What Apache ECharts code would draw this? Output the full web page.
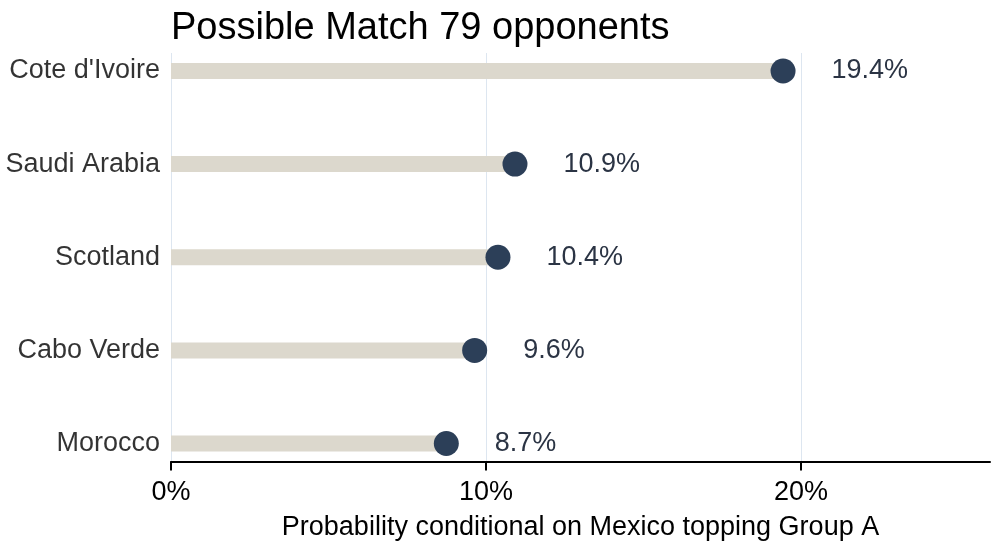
<!DOCTYPE html>
<html>
<head>
<meta charset="utf-8">
<script src="https://cdn.jsdelivr.net/npm/echarts@6/dist/echarts.min.js"></script>
<style>
  html, body { margin: 0; padding: 0; background: #fff; }
  #chart { width: 992px; height: 542px; }
</style>
</head>
<body>
<div id="chart"></div>
<script>
// data, top to bottom
var opponents = ["Cote d'Ivoire", 'Saudi Arabia', 'Scotland', 'Cabo Verde', 'Morocco'];
var probability = [19.43, 10.92, 10.38, 9.64, 8.74];
var xTicks = [0, 10, 20];

var FONT = "'Liberation Sans', Arial, Helvetica, sans-serif";

var chart = echarts.init(document.getElementById('chart'));

var pts = [];
var zeroPts = [];
for (var i = 0; i < opponents.length; i++) {
    pts.push([probability[i], i]);
    zeroPts.push([0, i]);
}

var option = {
    backgroundColor: '#fff',
    animation: false,
    title: {
        text: 'Possible Match 79 opponents',
        left: 166,
        top: 5,
        textStyle: { fontFamily: FONT, fontSize: 38, fontWeight: 'normal', color: '#000' }
    },
    grid: { left: 171, right: 2, top: 53, bottom: 80.5, containLabel: false, outerBoundsMode: 'none' },
    xAxis: {
        type: 'value',
        min: 0,
        max: 26,
        interval: 10,
        axisLine: { show: true, onZero: false, lineStyle: { color: '#000', width: 2 } },
        axisTick: { show: true, length: 9, lineStyle: { color: '#000', width: 2 },
            customValues: xTicks },
        axisLabel: { fontFamily: FONT, fontSize: 27, color: '#000', margin: 18,
            customValues: xTicks,
            formatter: function (v) { return v + '%'; } },
        splitLine: { show: true, lineStyle: { color: '#dde6f0', width: 1 } },
        name: 'Probability conditional on Mexico topping Group A',
        nameLocation: 'middle',
        nameGap: 53,
        nameTextStyle: { fontFamily: FONT, fontSize: 27, color: '#000' }
    },
    yAxis: {
        type: 'value',
        inverse: true,
        min: -0.193,
        max: 4.193,
        axisLine: { show: false },
        axisTick: { show: false },
        axisLabel: { show: false },
        splitLine: { show: false }
    },
    series: [
        {
            // stems
            type: 'custom',
            data: pts,
            renderItem: function (params, api) {
                var start = api.coord([0, api.value(1)]);
                var end = api.coord([api.value(0), api.value(1)]);
                var h = 16;
                return {
                    type: 'rect',
                    shape: { x: start[0], y: start[1] - h / 2, width: end[0] - start[0], height: h },
                    style: { fill: '#dcd8cd' }
                };
            },
            z: 2
        },
        {
            // dots with value labels
            type: 'scatter',
            data: pts,
            symbolSize: 25,
            itemStyle: { color: '#2c3f58', opacity: 1 },
            label: {
                show: true,
                position: 'right',
                distance: 36,
                fontFamily: FONT,
                fontSize: 27,
                color: '#2b3444',
                formatter: function (p) { return p.value[0].toFixed(1) + '%'; }
            },
            z: 3
        },
        {
            // category names
            type: 'scatter',
            data: zeroPts,
            symbolSize: 0,
            label: {
                show: true,
                position: 'left',
                distance: 11,
                fontFamily: FONT,
                fontSize: 27,
                color: '#000',
                formatter: function (p) { return opponents[p.dataIndex]; }
            },
            z: 3
        }
    ]
};

chart.setOption(option);
</script>
</body>
</html>
